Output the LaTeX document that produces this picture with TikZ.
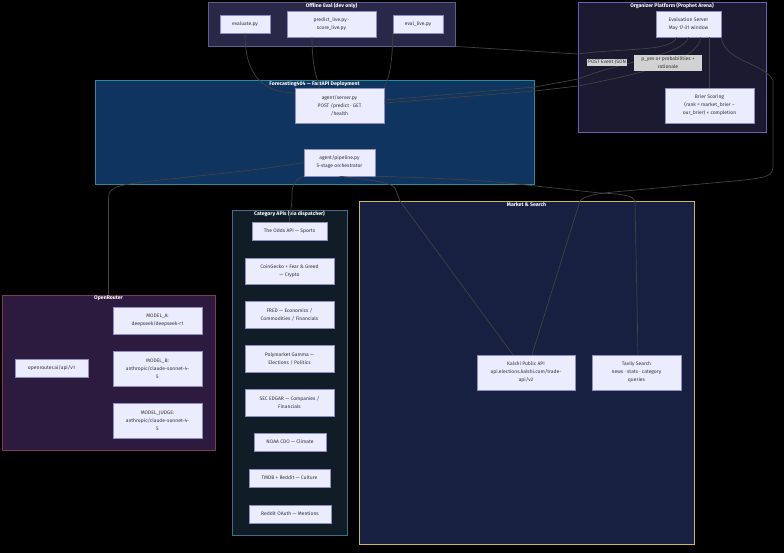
\documentclass[tikz,border=0pt]{standalone}
\usepackage{fontspec}
\setmainfont{Fira Sans}
\definecolor{boxfill}{HTML}{ECECFF}
\definecolor{boxline}{HTML}{8E8EC4}
\definecolor{boxtext}{HTML}{333333}
\definecolor{lblfill}{HTML}{D2D2D2}
\definecolor{edgegray}{HTML}{424242}
\definecolor{offfill}{HTML}{2A2848}
\definecolor{offline}{HTML}{5E5C8C}
\definecolor{orgfill}{HTML}{1B1A31}
\definecolor{orgline}{HTML}{6B5FB5}
\definecolor{depfill}{HTML}{0F3460}
\definecolor{depline}{HTML}{2C8C96}
\definecolor{catfill}{HTML}{101D27}
\definecolor{catline}{HTML}{3D6E8C}
\definecolor{mktfill}{HTML}{172040}
\definecolor{mktline}{HTML}{CDB84A}
\definecolor{orfill}{HTML}{2C1B3F}
\definecolor{orline}{HTML}{7D3A55}
\begin{document}
\begin{tikzpicture}[x=1pt, y=-1pt,
    box/.style 2 args={draw=boxline, fill=boxfill, text=boxtext, line width=0.6pt, align=center, inner sep=0pt,
        minimum width=#1pt, minimum height=#2pt, font=\fontsize{5}{8}\selectfont},
    cluster/.style 2 args={rectangle, line width=0.8pt, inner sep=0pt, minimum width=#1pt, minimum height=#2pt},
    title/.style={text=white, anchor=north, inner sep=1.5pt, font=\bfseries\fontsize{5.2}{6}\selectfont},
    elabel/.style={fill=lblfill, text=boxtext, align=center, inner sep=1pt, font=\fontsize{5}{8}\selectfont},
    edge/.style={draw=edgegray, line width=0.7pt}]

    \fill [black] (0, 0) rectangle (784, 553);

    \node [cluster={247}{44}, fill=offfill, draw=offline] (offline) at (331.5, 24) {};
    \node [cluster={188}{130}, fill=orgfill, draw=orgline] (organizer) at (672, 67) {};
    \node [cluster={439}{104}, fill=depfill, draw=depline] (deploy) at (314.5, 132) {};
    \node [cluster={115}{325}, fill=catfill, draw=catline] (category) at (289.5, 372.5) {};
    \node [cluster={335}{343}, fill=mktfill, draw=mktline] (market) at (526.5, 372.5) {};
    \node [cluster={213}{155}, fill=orfill, draw=orline] (openrouter) at (108.5, 372.5) {};

    \node [title] at (offline.north) {Offline Eval (dev only)};
    \node [title] at (organizer.north) {Organizer Platform (Prophet Arena)};
    \node [title] at (deploy.north) {Forecasting404 — FastAPI Deployment};
    \node [title] at (category.north) {Category APIs (via dispatcher)};
    \node [title] at (market.north) {Market \& Search};
    \node [title] at (openrouter.north) {OpenRouter};

    \node [box={50}{18}] (evalpy) at (245, 24) {evaluate.py};
    \node [box={89}{26}] (predict) at (331.5, 24) {predict\_live.py ·\\score\_live.py};
    \node [box={50}{18}] (evallive) at (418, 24) {eval\_live.py};

    \node [box={65}{26}] (evalserver) at (688.5, 24) {Evaluation Server\\May 17-31 window};
    \node [box={89}{35}] (brier) at (709.5, 105.5) {Brier Scoring\\(rank = market\_brier −\\our\_brier) × completion};

    \node [box={89}{35}] (server) at (339.5, 105.5) {agent/server.py\\POST /predict · GET\\/health};
    \node [box={71}{27}] (pipeline) at (339.5, 162.5) {agent/pipeline.py\\5-stage orchestrator};

    \node [box={75}{18}] (odds) at (289.5, 231) {The Odds API — Sports};
    \node [box={89}{26}] (coingecko) at (289.5, 271) {CoinGecko + Fear \& Greed\\— Crypto};
    \node [box={89}{27}] (fred) at (289.5, 314.5) {FRED — Economics /\\Commodities / Financials};
    \node [box={89}{27}] (polymarket) at (289.5, 358.5) {Polymarket Gamma —\\Elections / Politics};
    \node [box={89}{27}] (edgar) at (289.5, 402.5) {SEC EDGAR — Companies /\\Financials};
    \node [box={72}{18}] (noaa) at (290, 442) {NOAA CDO — Climate};
    \node [box={81}{18}] (tmdb) at (289.5, 478) {TMDB + Reddit — Culture};
    \node [box={82}{18}] (reddit) at (290, 514) {Reddit OAuth — Mentions};

    \node [box={98}{35}] (kalshi) at (526, 372.5) {Kalshi Public API\\api.elections.kalshi.com/trade-\\api/v2};
    \node [box={89}{35}] (tavily) at (636.5, 372.5) {Tavily Search\\news · stats · category\\queries};

    \node [box={73}{18}] (orapi) at (51.5, 368) {openrouter.ai/api/v1};
    \node [box={89}{27}] (modela) at (157.5, 320.5) {MODEL\_A:\\deepseek/deepseek-r1};
    \node [box={89}{35}] (modelb) at (157.5, 368.5) {MODEL\_B:\\anthropic/claude-sonnet-4-\\5};
    \node [box={89}{35}] (judge) at (157.5, 420.5) {MODEL\_JUDGE:\\anthropic/claude-sonnet-4-\\5};

    \draw [edge] (evalpy.south) .. controls (245, 75) and (262, 92) .. (server.west |- 0, 93);
    \draw [edge] ([xshift=-19.5pt]predict.south) .. controls (312, 70) and (318, 80) .. ([xshift=-20pt]server.north);
    \draw [edge] ([xshift=-25pt]evallive.south) .. controls (392, 70) and (388, 80) .. (server.north east);
    \draw [edge] (offline.south east) -- (578, 54) .. controls (620, 48) and (672, 52) .. ([xshift=-12pt]evalserver.south);
    \draw [edge] (evalserver.south) .. controls (684, 55) and (620, 62) .. (578, 79) -- (535, 87) -- (server.east |- 0, 100);
    \draw [edge] (server.east |- 0, 103) -- (535, 91) -- (578, 86) .. controls (640, 74) and (700, 60) .. ([xshift=12pt]evalserver.south);
    \draw [edge] (brier.north |- evalserver.south) -- (brier.north);
    \draw [edge] (evalserver.south east) .. controls (725, 62) and (762, 62) .. (773, 80) -- (773, 165)
        .. controls (773, 176) and (768, 177) .. (745, 180) -- (625, 191)
        .. controls (600, 193) and (585, 195) .. (580, 201) -- ([xshift=6pt]kalshi.north);
    \draw [edge] (pipeline.south east) .. controls (450, 178) and (500, 182) .. (517, 184) -- (600, 193)
        .. controls (625, 194) and (633, 196) .. (635, 201) -- ([xshift=1.5pt]tavily.north);
    \draw [edge] (pipeline.south) .. controls (370, 180) and (390, 182) .. (395, 188) -- (400, 201) -- ([xshift=-13pt]kalshi.north);
    \draw [edge] (pipeline.south west) .. controls (295, 180) and (292, 184) .. (292, 195) .. controls (292, 210) and (289.5, 212) .. (odds.north);
    \draw [edge] (pipeline.west) .. controls (230, 175) and (140, 180) .. (120, 186) .. controls (110, 189) and (108.5, 192) .. (108.5, 200) -- (openrouter.north);

    \node [elabel] (postlbl) at (607, 62.5) {POST Event JSON};
    \node [elabel, minimum width=68pt, minimum height=16pt, inner sep=0pt] (pyeslbl) at (668, 63) {p\_yes or probabilities +\\rationale};
\end{tikzpicture}
\end{document}
